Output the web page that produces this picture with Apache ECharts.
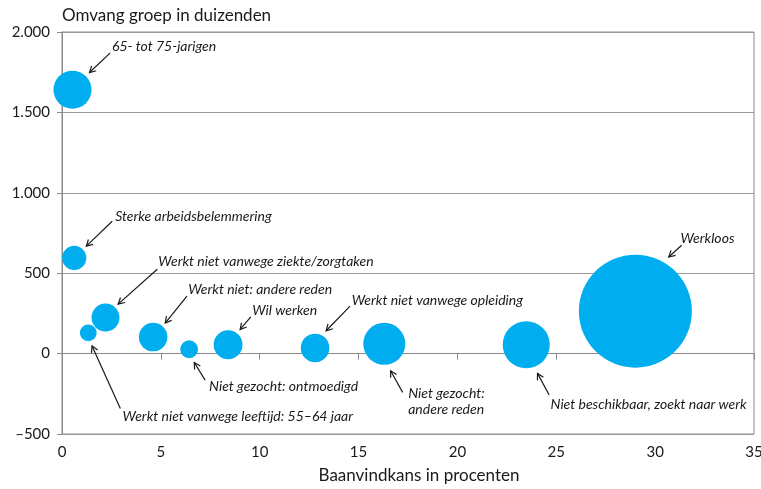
<!DOCTYPE html>
<html><head><meta charset="utf-8">
<script src="https://cdn.jsdelivr.net/npm/echarts@6/dist/echarts.min.js"></script>
<style>html,body{margin:0;padding:0;background:#fff}#c{width:761px;height:489px}</style>
</head><body><div id="c"></div>
<script>
// Data
const groepen = ['65- tot 75-jarigen','Sterke arbeidsbelemmering','Werkt niet vanwege leeftijd: 55–64 jaar','Werkt niet vanwege ziekte/zorgtaken','Werkt niet: andere reden','Niet gezocht: ontmoedigd','Wil werken','Werkt niet vanwege opleiding','Niet gezocht: andere reden','Niet beschikbaar, zoekt naar werk','Werkloos'];
const baanvindkans = [0.53, 0.62, 1.33, 2.2, 4.61, 6.43, 8.4, 12.8, 16.3, 23.48, 29.0];   // %
const omvang = [1641, 595, 129, 224, 103, 27, 55, 35, 61, 55, 264];                      // x 1000
const baanvinders = [8.7, 3.5, 1.7, 4.7, 4.9, 1.9, 5.0, 4.9, 10.6, 13.3, 76.6];         // x 1000 (bubble area)
const xTicks = [0, 5, 10, 15, 20, 25, 30, 35];
const yTicks = [-500, 0, 500, 1000, 1500, 2000];

// Annotations (in data units)
const annotText = ['65- tot 75-jarigen','Sterke arbeidsbelemmering','Werkt niet vanwege leeftijd: 55–64 jaar','Werkt niet vanwege ziekte/zorgtaken','Werkt niet: andere reden','Niet gezocht: ontmoedigd','Wil werken','Werkt niet vanwege opleiding','Niet gezocht:\nandere reden','Niet beschikbaar, zoekt naar werk','Werkloos'];
const annotPos = [[2.53,1907],[2.69,855],[3.06,-388],[4.87,571],[6.38,399],[7.44,-202],[9.62,266],[14.65,333],[17.51,-295],[24.71,-316],[31.28,716]];
const arrowFrom = [[2.44,1870],[2.54,823],[2.95,-341],[4.82,525],[6.32,357],[7.24,-165],[9.55,229],[14.57,295],[17.23,-241],[24.64,-258],[31.34,674]];
const arrowTo = [[1.39,1748],[1.23,668],[1.52,48],[2.84,308],[5.22,190],[6.69,-55],[9.01,150],[13.36,142],[16.62,-107],[24.05,-123],[30.69,601]];

const FONT = 'Lato, "Open Sans", sans-serif';
const ink = '#1a1a1a';
const chart = echarts.init(document.getElementById('c'));
const fmt = v => (v < 0 ? '–' : '') + Math.abs(v).toLocaleString('nl-NL');

chart.setOption({
  animation: false,
  backgroundColor: '#fff',
  title: { text: 'Omvang groep in duizenden', left: 62, top: 7, padding: 0,
    textStyle: { fontSize: 17, fontWeight: 'normal', color: ink, fontFamily: FONT } },
  grid: { left: 62, right: 7, top: 32, bottom: 55, show: true, borderColor: '#8a8a8a', borderWidth: 1, containLabel: false, outerBoundsMode: 'none' },
  xAxis: {
    type: 'value', min: xTicks[0], max: xTicks[xTicks.length-1], interval: 5,
    name: 'Baanvindkans in procenten', nameLocation: 'middle', nameGap: 33,
    nameTextStyle: { fontSize: 17, color: ink, fontFamily: FONT, padding: [0,0,0,22] },
    axisLine: { show: true, lineStyle: { color: '#8a8a8a' } },
    axisTick: { show: true, length: 6, lineStyle: { color: '#8a8a8a' } },
    axisLabel: { fontSize: 15, color: ink, fontFamily: FONT, margin: 11 },
    splitLine: { show: false }
  },
  yAxis: {
    type: 'value', min: yTicks[0], max: yTicks[yTicks.length-1], interval: 500,
    axisLine: { show: true, lineStyle: { color: '#8a8a8a' } },
    axisTick: { show: true, length: 5, lineStyle: { color: '#8a8a8a' } },
    axisLabel: { fontSize: 15, color: ink, fontFamily: FONT, margin: 12, formatter: fmt },
    splitLine: { show: true, lineStyle: { color: '#999', width: 1 } }
  },
  series: [
    {
      type: 'scatter',
      data: groepen.map((g, i) => ({ name: g, value: [baanvindkans[i], omvang[i], baanvinders[i]] })),
      symbolSize: v => Math.sqrt(v[2]) * 12.91,
      itemStyle: { color: '#00AEEF', opacity: 1 },
      z: 3
    },
    {
      type: 'custom',
      clip: false,
      z: 4,
      data: annotText.map((t, i) => [annotPos[i][0], annotPos[i][1], arrowFrom[i][0], arrowFrom[i][1], arrowTo[i][0], arrowTo[i][1]]),
      renderItem: (params, api) => {
        const i = params.dataIndex;
        const t = api.coord([api.value(0), api.value(1)]);
        const a = api.coord([api.value(2), api.value(3)]);
        const b = api.coord([api.value(4), api.value(5)]);
        const ang = Math.atan2(b[1]-a[1], b[0]-a[0]);
        const L = 7, w = 0.5;
        const p1 = [b[0]-L*Math.cos(ang-w), b[1]-L*Math.sin(ang-w)];
        const p2 = [b[0]-L*Math.cos(ang+w), b[1]-L*Math.sin(ang+w)];
        return { type: 'group', children: [
          { type: 'line', shape: { x1: a[0], y1: a[1], x2: b[0], y2: b[1] }, style: { stroke: ink, lineWidth: 1.2 } },
          { type: 'polyline', shape: { points: [p1, b, p2] }, style: { stroke: ink, lineWidth: 1.2, fill: null } },
          { type: 'text', x: t[0], y: t[1], style: { text: annotText[i], fill: ink, font: 'italic 14px ' + FONT, align: 'left', verticalAlign: 'middle', lineHeight: 16 } }
        ]};
      }
    }
  ]
});
</script></body></html>
